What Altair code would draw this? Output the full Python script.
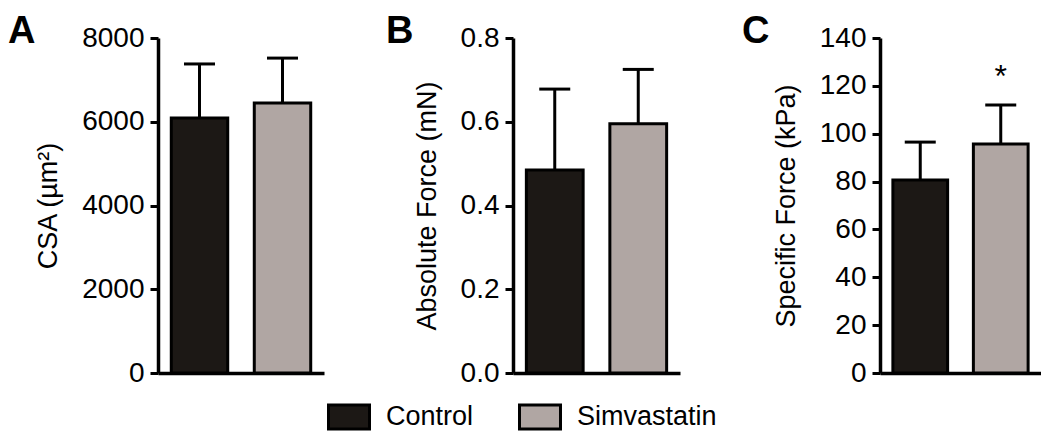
import altair as alt
import pandas as pd

groups = ["Control", "Simvastatin"]
colors = ["#1c1815", "#b0a6a3"]

csa_mean = [6090, 6450]
csa_upper = [7380, 7520]
abs_mean = [0.485, 0.595]
abs_upper = [0.678, 0.725]
spec_mean = [80.7, 95.7]
spec_upper = [96.5, 112.0]

csa_ticks = [0, 2000, 4000, 6000, 8000]
abs_ticks = [0.0, 0.2, 0.4, 0.6, 0.8]
spec_ticks = [0, 20, 40, 60, 80, 100, 120, 140]

panel_letters = ["A", "B", "C"]
titles = ["CSA (µm²)", "Absolute Force (mN)", "Specific Force (kPa)"]
sig_c = ["", "*"]

FONT = "Liberation Sans"

panels = [
    dict(letter="A", title=titles[0], mean=csa_mean, upper=csa_upper, ticks=csa_ticks,
         fmt="d", sig=["", ""], lx=-150, w=166),
    dict(letter="B", title=titles[1], mean=abs_mean, upper=abs_upper, ticks=abs_ticks,
         fmt=".1f", sig=["", ""], lx=-127, w=167),
    dict(letter="C", title=titles[2], mean=spec_mean, upper=spec_upper, ticks=spec_ticks,
         fmt="d", sig=sig_c, lx=-138, w=161),
]


def panel(p):
    df = pd.DataFrame({"group": groups, "mean": p["mean"], "upper": p["upper"], "sig": p["sig"]})
    base = alt.Chart(df)
    x = alt.X("group:N",
              scale=alt.Scale(domain=groups, paddingInner=0.32, paddingOuter=0.16),
              axis=alt.Axis(title=None, labels=False, ticks=False, domain=True,
                            domainWidth=3.5, domainColor="black"))
    y = alt.Y("mean:Q",
              scale=alt.Scale(domain=[p["ticks"][0], p["ticks"][-1]], nice=False, zero=True),
              axis=alt.Axis(title=p["title"], values=p["ticks"], format=p["fmt"], grid=False,
                            domainWidth=3.5, domainColor="black", tickColor="black",
                            tickWidth=3, tickSize=8, labelFontSize=28, labelPadding=6,
                            labelColor="black", titleFontSize=27, titleFontWeight="normal",
                            titleColor="black", titlePadding=19, labelFlush=False))
    rule = base.mark_rule(color="black", strokeWidth=3).encode(
        x=alt.X("group:N"), y=alt.Y("mean:Q"), y2="upper:Q")
    cap = base.mark_tick(color="black", thickness=3, size=31, opacity=1).encode(
        x=alt.X("group:N"), y=alt.Y("upper:Q"))
    bars = base.mark_bar(stroke="black", strokeWidth=3).encode(
        x=x, y=y,
        color=alt.Color("group:N",
                        scale=alt.Scale(domain=groups, range=colors),
                        legend=alt.Legend(
                            title=None, orient="none", direction="horizontal",
                            legendX=177, legendY=365, padding=0,
                            symbolType="M-1.64,-0.96L1.64,-0.96L1.64,0.96L-1.64,0.96Z",
                            symbolSize=625, symbolStrokeColor="black",
                            symbolStrokeWidth=3, symbolOpacity=1,
                            labelFontSize=27, labelColor="black", labelOffset=23,
                            columnPadding=39, labelLimit=300)))
    star = base.mark_text(fontSize=32, dy=-28, color="black").encode(
        x=alt.X("group:N"), y=alt.Y("upper:Q"), text="sig:N")
    ldf = pd.DataFrame({"letter": [p["letter"]]})
    letter = alt.Chart(ldf).mark_text(
        fontSize=38, fontWeight="bold", align="left", baseline="alphabetic", color="black"
    ).encode(x=alt.value(p["lx"]), y=alt.value(4.5), text="letter:N")
    # invisible spacer fixing the top edge of the panel bounds
    spacer = alt.Chart(ldf).mark_rule(strokeWidth=1, opacity=0).encode(
        x=alt.value(0), x2=alt.value(10), y=alt.value(-29.5))
    return alt.layer(rule, cap, bars, star, letter, spacer).properties(width=p["w"], height=335)


chart = alt.hconcat(*[panel(p) for p in panels], spacing=62).configure(
    font=FONT, padding=0, background="white"
).configure_view(stroke=None)

chart.save("out.html", embed_options={"renderer": "svg", "actions": False})
